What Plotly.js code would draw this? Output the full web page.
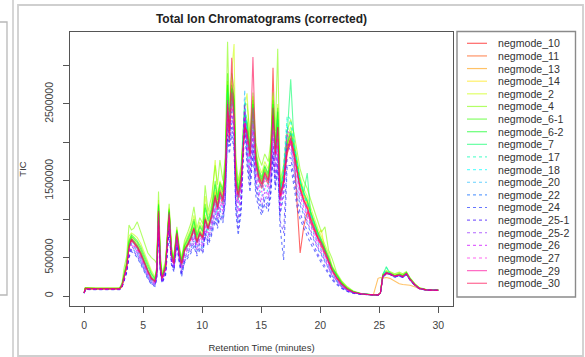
<!DOCTYPE html>
<html>
<head>
<meta charset="utf-8">
<script src="https://cdn.plot.ly/plotly-3.0.1.min.js"></script>
<style>html,body{margin:0;padding:0;background:#fff;}#chart{width:585px;height:357px;}</style>
</head>
<body>
<div id="chart"></div>
<script>
// Retention time grid (minutes), shared by all samples
const time = [
0,0.1,1,2,3,3.2,3.4,3.6,3.8,4.0,
4.2,4.5,4.8,5.1,5.4,5.7,6.0,6.15,6.3,6.45,
6.6,6.9,7.2,7.4,7.6,7.85,8.05,8.25,8.5,8.8,
9.05,9.3,9.55,9.8,10.05,10.25,10.5,10.8,11.1,11.3,
11.5,11.75,11.95,12.15,12.3,12.5,12.7,12.85,13.05,13.3,
13.6,13.8,14.05,14.3,14.55,14.8,15.05,15.3,15.6,15.8,
16.0,16.2,16.4,16.6,16.9,17.2,17.5,17.8,18.05,18.3,
18.6,18.9,19.2,19.5,19.8,20.1,20.4,20.7,21.0,21.4,
21.8,22.3,22.8,23.4,24.0,24.5,24.9,25.1,25.3,25.6,
25.9,26.3,26.7,27.0,27.3,27.6,28.0,28.4,29.0,30.0];

// TIC values in thousands of counts
const neg10 = [
40,95,90,90,90,120,240,370,620,720,
690,620,530,420,310,220,180,300,1050,400,
220,360,1050,520,420,800,540,400,580,660,
740,860,690,800,740,980,860,1020,1250,1120,
1300,1200,1500,2450,2000,2600,2300,1450,1250,1450,
2200,2050,1800,2400,1700,1500,1400,1550,1450,1750,
2970,1800,2100,1250,1450,1850,2000,1800,1100,560,
900,1100,950,850,740,660,560,440,330,230,
150,85,50,30,20,15,15,40,250,290,
280,255,270,250,290,215,145,95,80,75];
const neg11 = [
40,100,95,95,95,130,260,390,640,740,
700,640,550,430,320,230,190,320,1100,420,
230,380,1080,540,430,820,560,420,600,680,
760,880,700,820,760,1000,880,1050,1300,1150,
1350,1250,1550,2600,2100,2700,2400,1500,1300,1500,
2300,2150,1850,2500,1750,1550,1450,1600,1500,1700,
2400,1850,2250,1300,1500,1900,2050,1850,1650,1400,
1250,1150,1000,880,760,680,580,460,340,240,
160,90,50,30,20,15,15,40,260,300,
290,260,275,255,295,220,150,100,80,75];
const neg13 = [
45,105,100,100,100,140,280,400,660,760,
720,660,570,450,330,240,200,330,1150,440,
240,390,1100,560,440,840,580,430,620,700,
780,900,720,840,780,1030,900,1080,1350,1200,
1400,1300,1600,2500,2200,2650,2450,1550,1350,1550,
2250,2100,1900,2400,1800,1600,1500,1650,1550,1750,
2300,1900,2200,1350,1550,1950,2100,1900,1700,1450,
1300,1200,1050,920,800,700,600,480,350,250,
170,95,55,30,20,15,230,240,235,240,
230,200,160,150,145,140,120,95,80,75];
const neg14 = [
40,100,95,95,95,135,270,400,680,780,
740,680,590,460,340,250,200,330,1180,450,
240,400,1120,570,450,850,580,440,630,720,
800,930,740,860,800,1060,920,1100,1380,1230,
1420,1320,1620,2700,2200,2800,2500,1550,1350,1550,
2350,2200,1900,2550,1800,1600,1500,1650,1550,1750,
2450,1900,2300,1350,1550,1950,2100,1900,1700,1450,
1300,1200,1050,920,800,860,600,480,360,250,
170,95,55,30,20,15,15,40,270,310,
300,270,285,265,300,225,150,100,80,75];
const neg2 = [
40,105,100,100,100,150,320,450,780,820,
800,760,680,560,430,330,250,380,1250,500,
260,430,1150,600,480,870,620,470,680,780,
880,1050,820,960,880,1300,1050,1200,1770,1300,
1500,1400,1700,2800,2300,2900,3280,1700,1450,1650,
2450,2640,2000,2600,1900,1700,1600,1750,1650,1900,
2600,2000,2500,1450,1650,2050,2200,2000,1800,1550,
1400,1300,1150,1000,880,780,680,560,400,280,
190,110,60,35,22,15,15,40,280,320,
310,280,300,280,310,235,160,105,85,80];
const neg4 = [
40,110,105,105,105,170,380,520,923,860,
880,966,820,680,560,500,460,420,1360,560,
290,470,1200,640,520,900,660,500,720,840,
950,1160,880,1020,940,1440,1100,1300,1700,1450,
1770,1500,1800,3310,2400,2900,2700,1800,1500,1700,
2500,2500,2100,2650,2000,1800,1700,1850,1750,2000,
2650,2150,3220,1500,1700,2150,2300,2100,1900,1650,
1500,1400,1250,1100,950,830,900,600,490,300,
200,120,65,35,22,15,15,40,290,330,
320,290,310,290,320,240,165,110,85,80];
const neg6_1 = [
40,105,100,100,100,145,300,430,720,800,
770,720,640,520,400,300,230,360,1200,480,
250,420,1130,590,470,860,610,460,660,760,
850,1000,790,920,850,1200,1000,1150,1500,1280,
1480,1380,1680,2900,2250,2750,2600,1650,1400,1600,
2400,2300,1950,2550,1850,1650,1550,1700,1600,1850,
2550,1950,2450,1400,1600,2000,2150,1950,1750,1500,
1350,1250,1100,960,840,740,640,520,380,270,
180,100,58,32,21,15,15,40,270,310,
300,270,290,270,305,230,155,100,80,78];
const neg6_2 = [
40,100,98,98,98,140,290,420,700,780,
750,700,610,490,380,280,220,350,1180,470,
245,410,1110,580,460,850,600,450,650,740,
830,970,770,900,830,1150,970,1120,1450,1250,
1450,1350,1650,2750,2200,2700,2550,1600,1380,1580,
2350,2250,1920,2500,1820,1620,1520,1680,1580,1820,
2500,1920,2400,1380,1580,1980,2120,1920,1720,1480,
1330,1230,1080,940,820,720,620,500,370,265,
175,98,56,31,20,15,15,40,265,305,
295,265,285,265,300,228,152,100,80,77];
const neg7 = [
40,98,95,95,95,135,275,400,660,750,
720,660,570,450,340,250,200,330,1120,430,
235,390,1090,550,440,830,570,430,610,700,
780,900,720,840,780,1020,900,1070,1320,1180,
1380,1280,1580,2650,2150,2650,2450,1550,1330,1530,
2350,2200,1880,2450,1780,1580,1480,1630,1530,1750,
2450,1900,2300,1350,1600,2100,2820,1950,1750,1500,
1350,1600,1050,920,800,700,600,480,350,250,
165,92,52,30,20,15,15,40,270,380,
300,265,280,260,300,222,150,100,80,75];
const neg17 = [
40,95,92,92,92,130,260,380,640,730,
700,640,550,430,320,230,185,310,1080,410,
225,370,1060,530,420,800,550,410,590,670,
750,860,690,800,740,980,860,1020,1260,1120,
1320,1220,1520,2550,2300,2550,2350,1480,1280,1480,
2400,2150,1820,2350,1720,1520,1420,1570,1480,1700,
2300,1800,2150,1300,1700,2350,2300,2000,1750,1500,
1350,1200,1050,920,790,690,590,470,345,245,
160,88,50,30,20,15,15,40,280,370,
300,260,275,255,295,220,150,100,80,75];
const neg18 = [
40,95,90,90,90,125,250,370,620,710,
680,620,530,415,310,220,180,300,1050,400,
220,360,1040,520,410,790,540,400,580,660,
730,850,680,790,730,960,850,1000,1240,1100,
1300,1200,1500,2500,2350,2500,2300,1450,1250,1450,
2550,2100,1780,2300,1700,1500,1400,1550,1450,1680,
2250,1780,2100,1280,1650,2300,2250,1950,1700,1470,
1320,1180,1030,900,780,680,580,460,340,240,
155,86,50,30,20,15,15,40,270,330,
295,258,272,252,292,218,148,98,80,75];
const neg20 = [
40,92,88,88,88,120,240,350,590,680,
650,590,500,390,290,205,165,280,1000,380,
205,340,1000,490,390,760,510,370,540,620,
690,800,640,750,690,920,800,950,1180,1040,
1230,1130,1420,2400,2200,2400,2200,1350,1150,1350,
2680,2000,1680,2200,1600,1400,1300,1450,1350,1580,
2150,1680,2000,1200,1500,2200,2100,1800,1550,1350,
1200,1070,930,810,700,610,520,410,300,210,
140,78,45,28,18,14,14,38,250,300,
285,250,265,245,285,212,145,96,78,74];
const neg22 = [
40,88,85,85,85,115,220,320,540,620,
600,540,450,350,250,175,145,250,900,340,
185,300,920,440,350,700,460,300,480,560,
620,720,580,680,600,840,720,860,1080,950,
1120,1020,1300,2200,2000,2250,2050,1200,950,1200,
2400,1850,1500,2000,1450,1250,1140,1300,1200,1400,
1950,1500,1800,1050,1300,1950,1900,1600,1350,1180,
1050,940,820,710,610,530,450,360,260,185,
120,68,40,25,16,13,13,36,240,290,
280,245,260,240,280,208,142,94,77,73];
const neg24 = [
35,85,82,82,82,110,200,300,500,580,
560,500,410,310,220,150,125,220,820,300,
165,270,850,400,320,650,420,250,430,500,
560,650,520,600,560,780,660,790,980,880,
1020,950,1200,2050,1850,2100,1900,1100,790,1100,
2200,1700,1350,1850,1300,1140,1050,1200,1100,1280,
1800,1380,1650,900,470,1700,1700,1400,1150,1000,
880,780,680,590,500,430,360,290,210,150,
100,58,35,22,15,12,12,35,240,300,
285,248,262,242,282,210,143,95,77,73];
const neg25_1 = [
38,86,84,84,84,112,210,310,520,600,
580,520,430,330,235,160,135,235,860,320,
175,285,880,420,335,680,440,270,450,530,
590,690,550,640,560,810,690,820,1020,910,
1070,980,1250,2100,1950,2200,1950,1150,850,1150,
2300,1780,1420,1950,1380,1200,1100,1250,1150,1350,
1880,1440,1720,980,820,1800,1800,1500,1250,1080,
950,850,740,640,545,470,395,315,230,165,
110,62,37,23,15,12,12,35,245,295,
282,246,262,242,283,209,142,94,77,73];
const neg25_2 = [
38,90,87,87,87,118,225,330,560,640,
620,560,470,365,265,185,150,260,940,350,
190,310,950,460,365,720,480,320,500,580,
640,750,600,700,630,870,750,890,1110,980,
1150,1060,1340,2300,2050,2350,2100,1250,1000,1250,
2500,1900,1550,2100,1500,1300,1180,1350,1250,1450,
2000,1550,1850,1080,1350,2000,1950,1650,1400,1220,
1080,970,850,740,630,550,465,370,270,190,
125,70,42,26,17,13,13,36,250,300,
285,250,265,245,285,212,144,95,78,74];
const neg26 = [
40,92,89,89,89,122,235,345,580,660,
640,580,490,380,280,195,160,270,980,370,
200,330,980,480,380,750,500,350,530,610,
670,780,620,730,670,900,780,920,1150,1020,
1200,1100,1380,2350,2150,2400,2150,1300,1100,1300,
2450,1950,1620,2150,1550,1350,1250,1400,1300,1520,
2100,1620,1950,1150,1420,2100,2000,1750,1500,1300,
1150,1030,900,780,670,580,495,395,285,200,
130,74,44,27,17,13,13,37,255,305,
290,255,268,248,288,214,146,97,78,74];
const neg27 = [
40,94,90,90,90,125,245,360,600,690,
660,600,510,400,295,210,170,285,1020,390,
210,345,1020,500,400,780,520,380,560,640,
710,820,660,770,710,940,820,960,1200,1070,
1260,1160,1450,2450,2250,2500,2250,1400,1200,1400,
2350,2000,1720,2250,1650,1450,1350,1500,1400,1620,
2250,1720,2050,1230,1500,2150,2100,1850,1600,1380,
1230,1100,960,840,720,630,540,430,315,220,
145,80,47,28,18,14,14,38,260,305,
292,258,272,252,292,218,148,98,79,75];
const neg29 = [
40,98,94,94,94,130,255,380,630,730,
690,630,540,425,315,225,185,310,1080,410,
225,370,1060,530,420,810,550,410,590,670,
750,870,690,810,750,990,870,1030,1280,1130,
1330,1230,1530,2550,2050,2650,2350,1480,1280,1480,
2250,2100,1820,2450,1720,1520,1420,1580,1480,1680,
2350,1820,2200,1280,1480,1880,2020,1820,1620,1380,
1230,1130,980,860,750,670,570,450,335,235,
155,88,50,30,20,15,15,40,255,295,
288,258,272,252,292,218,148,98,80,75];
const neg30 = [
40,100,96,96,96,132,262,392,645,745,
705,645,555,435,325,232,192,322,1110,425,
232,385,1090,545,435,825,565,425,605,685,
765,885,705,825,765,1005,885,1055,1310,1160,
1360,1260,1560,2500,2150,3100,2350,1500,1320,1520,
2200,2150,1850,3110,1760,1560,1460,1610,1510,1720,
2450,1860,2200,1310,1510,1910,2060,1860,1660,1410,
1260,1160,1010,890,770,690,590,465,345,245,
162,91,51,30,20,15,15,40,262,302,
292,262,276,256,296,222,152,100,80,75];

const sampleNames = ["negmode_10","negmode_11","negmode_13","negmode_14","negmode_2","negmode_4",
  "negmode_6-1","negmode_6-2","negmode_7","negmode_17","negmode_18","negmode_20","negmode_22",
  "negmode_24","negmode_25-1","negmode_25-2","negmode_26","negmode_27","negmode_29","negmode_30"];
const sampleValues = [neg10,neg11,neg13,neg14,neg2,neg4,neg6_1,neg6_2,neg7,neg17,neg18,neg20,neg22,
  neg24,neg25_1,neg25_2,neg26,neg27,neg29,neg30];
const sampleColors = ["#FF0000","#FF4D00","#FF9900","#FFE500","#CCFF00","#80FF00","#33FF00","#00FF19",
  "#00FF66","#00FFB2","#00FFFF","#00B3FF","#0066FF","#001AFF","#3300FF","#7F00FF","#CC00FF","#FF00E6",
  "#FF0099","#FF004D"];
const sampleDash = ["solid","solid","solid","solid","solid","solid","solid","solid","solid",
  "dot","dot","dot","dot","dot","dot","dot","dot","dot","solid","solid"];
const yTickVals = [0,500000,1000000,1500000,2000000,2500000,3000000];
const yTickText = ["0","500000","","1500000","","2500000",""];
const xTickVals = [0,5,10,15,20,25,30];

function rgba(hex, a){
  const r=parseInt(hex.slice(1,3),16), g=parseInt(hex.slice(3,5),16), b=parseInt(hex.slice(5,7),16);
  return `rgba(${r},${g},${b},${a})`;
}
const ALPHA = 0.6;

const traces = sampleNames.map((nm,i)=>({
  type:'scatter', mode:'lines', name:nm,
  x: time, y: sampleValues[i].map(v=>v*1000),
  line:{color:rgba(sampleColors[i],ALPHA), width:1.1, dash:sampleDash[i]},
  hoverinfo:'skip', showlegend:false
}));

// plot box in pixels
const L=70, R=453, TOP=32, BOT=306;
const px = x => (x-L)/(R-L);
const py = y => (BOT-y)/(BOT-TOP);

const shapes = [];
const annotations = [];
// surrounding panel frames (screenshot panels)
shapes.push({type:'rect', xref:'paper', yref:'paper', x0:px(-6), x1:px(7), y0:py(295), y1:py(22), line:{color:'#b8b8b8', width:1.3}});
shapes.push({type:'line', xref:'paper', yref:'paper', x0:px(13), x1:px(13), y0:py(360), y1:py(-5), line:{color:'#c8c8c8', width:1.5}});
shapes.push({type:'rect', xref:'paper', yref:'paper', x0:px(18), x1:px(583), y0:py(356), y1:py(5), line:{color:'#cfcfcf', width:1.8}});
// legend box
const LX0=457, LX1=575.5, LY0=31.5, LY1=297;
shapes.push({type:'rect', xref:'paper', yref:'paper', x0:px(LX0), x1:px(LX1), y0:py(LY1), y1:py(LY0), line:{color:'#8a8a8a', width:1.4}});
sampleNames.forEach((nm,i)=>{
  const yy = 43.3 + i*12.63;
  shapes.push({type:'line', xref:'paper', yref:'paper', x0:px(467), x1:px(487), y0:py(yy), y1:py(yy),
    line:{color:rgba(sampleColors[i],ALPHA), width:1.2, dash:sampleDash[i]}});
  annotations.push({xref:'paper', yref:'paper', x:px(495.5), y:py(yy), text:nm, showarrow:false,
    xanchor:'left', yanchor:'middle', font:{family:'Liberation Sans, Arial, sans-serif', size:10.6, color:'#333'}});
});

const layout = {
  width:585, height:357,
  margin:{l:L, r:585-R, t:TOP, b:357-BOT},
  paper_bgcolor:'#fff', plot_bgcolor:'#fff',
  font:{family:'Liberation Sans, Arial, sans-serif', size:10, color:'#444'},
  title:{text:'Total Ion Chromatograms (corrected)', x:261.5/585, xref:'container', xanchor:'center',
    y:1-18.5/357, yref:'container', yanchor:'middle',
    font:{family:'Liberation Sans, Arial, sans-serif', size:12, color:'#222', weight:'bold'}},
  xaxis:{range:[-1.2,31.25], tickvals:xTickVals, ticktext:xTickVals.map(String), ticks:'outside', ticklen:6,
    tickcolor:'#555', showline:true, mirror:true, linecolor:'#555', linewidth:1, showgrid:false, zeroline:false,
    tickfont:{size:10.5, color:'#444'}, ticklabelstandoff:3,
    title:{text:'Retention Time (minutes)', font:{size:9.5, color:'#333'}, standoff:14}},
  yaxis:{range:[-130000,3437000], tickvals:yTickVals, ticktext:yTickText, ticks:'outside', ticklen:6,
    tickcolor:'#555', tickangle:-90, showline:true, mirror:true, linecolor:'#555', linewidth:1,
    showgrid:false, zeroline:false, tickfont:{size:10.5, color:'#444'}, ticklabelstandoff:6,
    title:{text:'TIC', font:{size:9.5, color:'#333'}, standoff:14}},
  shapes:shapes, annotations:annotations, showlegend:false
};

Plotly.newPlot('chart', traces, layout, {staticPlot:true, displayModeBar:false});
</script>
</body>
</html>
